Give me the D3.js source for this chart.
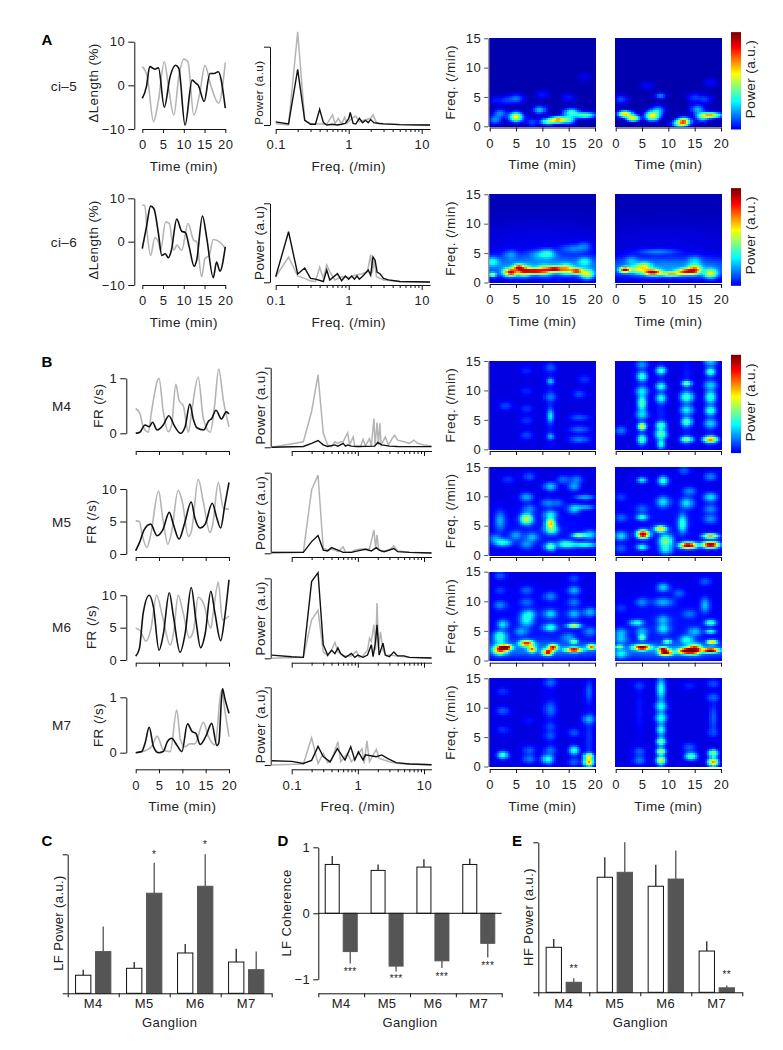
<!DOCTYPE html>
<html><head><meta charset="utf-8">
<script src="https://cdnjs.cloudflare.com/ajax/libs/d3/7.8.5/d3.min.js"></script>
<style>
html,body{margin:0;padding:0;background:#fff}
svg{display:block}
text{font-family:"Liberation Sans",Arial,sans-serif;fill:#222}
</style></head><body><svg id="c" width="783" height="1050"></svg>
<script>
// ---------- time series [min, value] ----------
const ci5Dark=[[0,-3],[1,-.3],[1.8,4.3],[3,3.7],[3.9,4],[5.3,-5],[6.7,2],[8,4.6],[8.8,3.9],[10.3,-9.1],[12,1.2],[12.9,.5],[13.5,0],[14.9,-3.7],[16.3,2.7],[17.3,2.7],[18.3,3.1],[20,-5.2]];
const ci5Light=[[0,4.3],[1.2,2],[2.7,-8.3],[3.9,-3.4],[5.3,5.4],[6.4,-1],[7.6,-6.8],[8.8,2],[10,6],[11,5.4],[12.4,-6.8],[13.9,-1.5],[15.1,4.6],[16.5,0],[18.4,-4.1],[20,5.2]];
const ci6Dark=[[0,-1.6],[1,3.4],[2,8.2],[2.8,7.6],[3.9,1.8],[4.7,-3.2],[5.5,-2.8],[6.3,-3.7],[7,-2],[8.3,5.2],[9.5,2.4],[10.4,2.1],[11.3,-1.2],[12.5,-5.7],[13.1,-4.3],[14.5,5.9],[15.5,1],[17.1,-8.3],[17.9,-4.7],[18.7,-6.8],[20,-1.2]];
const ci6Light=[[0,8.4],[.6,8.4],[1.2,1.8],[2,-3.2],[3,.9],[3.9,-.1],[4.4,-2],[5.6,4.5],[6.5,4.2],[7.6,-2],[8.3,-.8],[9.5,-2],[11,4.2],[12.4,.3],[13.1,0],[14.3,-8.1],[15.1,-3.9],[16.1,-3.2],[17.1,.5],[18.7,-.1],[20,-1.6]];
const m4Dark=[[0,0],[.9,.02],[2,.15],[2.9,.12],[3.6,.2],[4.6,.06],[5.9,.15],[7.1,.32],[8.4,.12],[9.6,0],[10.6,.12],[11.6,.53],[12.4,.24],[13.1,.1],[14.6,.06],[15.6,.22],[16.3,.27],[17.2,.42],[18.4,.26],[19.4,.39],[20,.35]];
const m4Light=[[0,.45],[.9,.36],[1.6,.12],[2.7,.02],[3.4,.4],[5,1],[5.9,.4],[7,.03],[7.7,.15],[8.6,.89],[9.3,.6],[10.2,.5],[11.3,.02],[12,.4],[13.4,1.02],[14.5,.27],[16,.02],[16.9,.5],[17.8,1.17],[18.8,.6],[20,.12]];
const m5Dark=[[0,.5],[.9,1.9],[1.8,3.7],[3.2,4.6],[4.6,2.8],[5.8,3.7],[7.2,6.4],[8.1,4.5],[9.3,2.3],[10.4,4.5],[11.9,8],[12.7,5.5],[13.8,4],[14.9,4.6],[16.4,7.8],[17.4,5.5],[18.2,4],[19.1,7.5],[20,11]];
const m5Light=[[0,5.1],[.8,5],[1.4,2.9],[2.4,1],[3.2,2.9],[4.9,9.7],[5.8,5.5],[6.9,1.5],[7.7,3.4],[9.1,9.8],[10,8],[11.3,2.7],[12,3.7],[13.4,11.5],[14.5,8],[15.9,3.3],[16.5,4.5],[17.7,11],[18.8,7],[20,6.9]];
const m6Dark=[[0,.6],[.8,1.8],[1.6,7.2],[2.9,10],[3.8,8.2],[5,1.5],[5.9,3.9],[7.2,10.4],[8.1,6.7],[9.5,1.2],[10.6,4.1],[11.9,11.2],[12.9,6.2],[13.9,1.9],[14.9,4.1],[16.1,10.6],[17,7.2],[18.2,3],[19.1,6.7],[20,12.4]];
const m6Light=[[0,4.9],[.9,4.6],[2.2,2.9],[3.2,4.6],[4.5,10],[5.6,7.2],[7.4,2.3],[8.1,4.1],[9.1,10],[10.2,7.2],[11.5,3.4],[12.4,4.6],[13.4,9.7],[14.5,8.8],[16.1,4.9],[16.6,7.2],[17.7,12],[18.6,6.2],[20,6.8]];
const m7Dark=[[0,0],[1.3,.02],[2,.17],[2.9,.46],[3.8,.11],[4.9,0],[5.9,.02],[6.8,.2],[7.7,.26],[8.8,.14],[9.9,.02],[11.1,.52],[12.1,.38],[12.9,.35],[13.8,.15],[15,.29],[16.3,.53],[17.4,.13],[17.8,.17],[18.6,1.16],[19.1,.98],[20,.71]];
const m7Light=[[0,0],[1.6,.02],[3.4,.11],[4.6,.3],[5.9,.05],[7.4,.02],[8.8,.77],[9.6,.23],[10.6,.11],[11.6,.16],[12.7,.16],[14.5,.55],[15.6,.29],[17,.14],[18.4,1.13],[19.1,.77],[20,.29]];
// ---------- spectra [freq, power] ----------
const ci5PDark=[[.1,.04],[.15,.013],[.2,.71],[.25,.06],[.3,.01],[.35,.01],[.4,.2],[.45,.03],[.5,0],[.6,.01],[.7,0],[.8,.01],[.9,.02],[1,.08],[1.05,.16],[1.15,.02],[1.25,.012],[1.4,.085],[1.55,.03],[1.7,.06],[1.85,.03],[2,.07],[2.2,.03],[2.6,.02],[3,.015],[5,.005],[10,0],[13,0]];
const ci5PLight=[[.1,.02],[.15,0],[.2,1.19],[.25,.06],[.3,.02],[.4,.012],[.5,.012],[.6,.13],[.65,.02],[.72,.085],[.8,.012],[.88,.1],[.95,.02],[1.1,.085],[1.25,.115],[1.4,.04],[1.6,.06],[2,.085],[2.15,.13],[2.4,.03],[3,.015],[5,.005],[13,0]];
const ci6PDark=[[.1,.07],[.15,.64],[.2,.105],[.25,.18],[.3,.05],[.35,.04],[.45,.01],[.5,.155],[.55,.03],[.7,.11],[.8,.02],[.9,.08],[1,.04],[1.1,.08],[1.2,.04],[1.3,.08],[1.4,.04],[1.6,.09],[1.85,.155],[2,.09],[2.15,.32],[2.3,.28],[2.45,.13],[2.7,.105],[3,.05],[3.5,.03],[5,.01],[13,.004]];
const ci6PLight=[[.1,.07],[.15,.32],[.2,.08],[.25,.05],[.3,.015],[.35,.01],[.4,.19],[.45,.05],[.5,.22],[.55,.135],[.65,.03],[.8,.07],[1,.06],[1.2,.09],[1.5,.105],[1.8,.135],[2,.35],[2.1,.115],[2.25,.28],[2.4,.07],[2.7,.05],[3,.03],[5,.01],[13,.004]];
const m4PDark=[[.05,0],[.15,.01],[.2,.05],[.25,.085],[.3,.03],[.35,.01],[.45,.03],[.5,.015],[.6,.05],[.65,.015],[.7,.03],[.8,.015],[1,.01],[1.8,.015],[2,.06],[2.3,.03],[3,.015],[4,.01],[13,.008]];
const m4PLight=[[.05,0],[.15,.07],[.2,.45],[.25,.91],[.3,.18],[.35,.03],[.4,.01],[.45,.07],[.5,.05],[.55,.07],[.6,.07],[.7,.18],[.75,.03],[.85,.13],[.9,.01],[1.1,.01],[1.2,.1],[1.3,.017],[1.5,.11],[1.6,.017],[1.75,.36],[1.82,.017],[1.95,.31],[2.05,.03],[2.15,.3],[2.25,.03],[2.6,.13],[2.9,.03],[3.3,.11],[3.6,.15],[4,.09],[5,.07],[6,.05],[7,.09],[8,.05],[10,.03],[13,.017]];
const m5PDark=[[.05,.01],[.15,.012],[.2,.145],[.25,.22],[.3,.04],[.35,.03],[.4,.07],[.5,.04],[.6,.012],[.8,.012],[1,.03],[1.3,.05],[1.6,.03],[1.9,.07],[2.1,.04],[2.5,.02],[3.5,.06],[4,.02],[6,.012],[13,.004]];
const m5PLight=[[.05,.01],[.15,.012],[.2,.79],[.25,.97],[.3,.06],[.35,.04],[.4,.054],[.45,.04],[.5,.02],[.6,.08],[.65,.012],[.8,.012],[.9,.04],[1.1,.054],[1.3,.054],[1.5,.054],[1.75,.29],[1.85,.06],[1.95,.23],[2.05,.054],[2.3,.02],[3,.04],[3.5,.09],[4,.03],[6,.012],[13,.004]];
const m6PDark=[[.05,.04],[.1,.02],[.15,.012],[.2,.96],[.25,1.07],[.3,.17],[.35,.04],[.4,.1],[.45,.06],[.5,.13],[.55,.06],[.65,.012],[.8,.06],[.9,.012],[1,.04],[1.2,.012],[1.4,.04],[1.6,.17],[1.7,.02],[1.85,.21],[1.95,.42],[2.1,.04],[2.4,.19],[2.6,.04],[3,.02],[3.5,.08],[4,.03],[5,.03],[6,.012],[13,.004]];
const m6PLight=[[.05,0],[.15,.012],[.2,.48],[.25,.6],[.3,.08],[.35,.03],[.4,.1],[.45,.2],[.5,.08],[.6,.03],[.8,.03],[.95,.09],[1.05,.012],[1.2,.03],[1.4,.1],[1.5,.25],[1.6,.21],[1.75,.42],[1.85,.1],[1.95,.69],[2.05,.125],[2.2,.33],[2.4,.1],[2.7,.03],[3,.04],[4,.03],[6,.012],[13,.004]];
const m7PDark=[[.05,.055],[.1,.047],[.15,.02],[.2,.06],[.25,.24],[.3,.11],[.38,.04],[.49,.21],[.64,.064],[.78,.236],[.9,.064],[1.02,.17],[1.2,.064],[1.3,.13],[1.9,.107],[2.3,.13],[2.8,.086],[3.8,.03],[6,.013],[13,.004]];
const m7PLight=[[.05,0],[.15,.013],[.2,.35],[.25,.02],[.3,.15],[.35,.03],[.4,.064],[.5,.3],[.55,.043],[.7,.15],[.8,.043],[1,.13],[1.15,.21],[1.25,.02],[1.37,.31],[1.5,.043],[1.9,.2],[2.1,.086],[2.5,.064],[3,.043],[4,.02],[13,.004]];
// ---------- spectrogram peaks [min, /min, power, sigma-t, sigma-f] ----------
const hmA1L=[[5,1.7,.62],[5,4.8,.22,1.2,.6],[9.5,2.9,.3,1,.5],[11,.9,.45,1,.4],[13,1.2,.75,1.2,.4],[15.5,2.5,.4,1.1,.5],[18,2,.45,1.6,.4],[1,1.2,.24],[2,2.3,.24],[8,.8,.17],[15,1.3,.36],[3,4.5,.14],[10,5.5,.12],[15,5,.12],[18,8.5,.08],[1,4.5,.12]];
const hmA1R=[[1.8,2.2,.7,1,.4],[3.3,1.5,.62,.9,.4],[7,1.9,.62,1,.6],[8,2.8,.28],[13,.9,.75,.9,.5],[12,.6,.45,1,.5],[15.5,3,.28],[18,2,.68,1.5,.35],[16.5,1.7,.35],[1,4.7,.18],[8.5,5.3,.25,.8,.4],[15,5,.16],[17,4.7,.16],[6,7,.1],[18,7.5,.1]];
const hmA2L=[[4,2,.88,1,.5],[5.5,2.8,.78,.8,.4],[6.5,2.2,.72],[8.5,2.2,.85,1.4,.4],[12.3,2.5,.9,1.2,.4],[16.5,2.2,.8,1,.4],[.5,1.6,.5,.6,.3],[18.5,1.7,.55],[14.5,2.5,.6],[10.4,2.3,.55],[10,5,.25,2,.6],[11,5.2,.25],[.5,3.8,.3],[18,3.8,.28],[4,5,.2],[16,6,.2,2,.6],[18,6.5,.16],[10,3,.25,14,1.6],[10,7,.07,14,3]];
const hmA2R=[[1.8,2.4,.95,.8,.35],[7,2,.9,1.3,.4],[10.5,1.7,.62,1.5,.3],[13.5,2.1,.82,1.5,.4],[15,2.5,.65],[18,1.8,.55],[4,2.5,.45],[5.5,2.9,.5],[8,5.5,.2,3,.4],[15,4,.22],[3,4,.2],[10,2.8,.24,14,1.5],[10,7,.06,14,3]];
const hmM4L=[[11.5,11.7,.27,.6,.4],[11.5,5.8,.3,.5,.9],[11.5,2.3,.25,.6,.4],[11.5,9,.17],[3,7.5,.14],[7,7,.12],[7,5,.12],[7,2.5,.14],[17,1.8,.2,1.6,.5],[17,3.5,.18,1.6,.5],[17,5.5,.16,1.5,.5],[17,9.5,.15],[18,12,.12],[7,13.5,.1],[7,10,.1],[11.5,14,.14],[11.5,7.5,.08,.8,8]];
const hmM4R=[[5,4,.62,.6,.45],[5,1.8,.42,.7,.6],[5,6,.26],[5,8,.4,.7,1],[5,10,.28],[5,12.5,.38,.8,.6],[5,14.5,.2],[8.6,1,.35,.6,.6],[8.6,2.7,.42,.9,.7],[8.6,4.2,.4,.8,.5],[8.6,8.8,.33,.8,.6],[8.6,10.8,.35,.8,.5],[8.6,13.5,.38,.8,.5],[13.5,1.8,.48,.9,.4],[13.5,4.8,.4,.8,.6],[13.5,6.8,.3],[13.5,9,.38,1,.7],[13.5,11.3,.46,.7,.35],[18,1.8,.72,1,.4],[18,4.5,.26],[18,6.7,.35,.8,.6],[18,9,.35,.8,.8],[18,11,.25],[18,13.3,.38,.7,.5],[18,15,.25],[1,3.3,.2],[5,8,.1,1,8],[8.6,8,.1,1,8],[13.5,8,.1,1,8],[18,8,.1,1,8]];
const hmM5L=[[7,6.3,.55,.9,.7],[11.5,5.6,.64,.7,.6],[11.7,4.5,.42],[11.5,1.6,.44,.8,.5],[14.5,2,.38,1.3,.5],[17,3.5,.52,1,.3],[18,1.9,.36,2,.35],[19,3.6,.28],[2.5,2.3,.36,1.3,.5],[2,6,.24,.8,1.3],[5,3.5,.22],[8,3.2,.24],[7,2,.2],[11.5,7,.32],[7,10,.24],[7.5,8,.2],[11.5,11.8,.28],[14,13,.18],[16.5,13,.2],[16,11.8,.24],[18,10,.25,1.5,.35],[18,8.3,.25,1.5,.35],[16,8,.28],[11,9,.2],[3.5,13,.12],[7.5,13.5,.16],[13,9,.16],[1,3,.2],[10,4,.08,10,4]];
const hmM5R=[[5.2,3.7,1,.9,.5],[8.5,4.6,.68,.9,.4],[9.5,2.5,.48,1,.9],[9.5,1,.28],[13.8,1.8,1,1.2,.4],[18,1.9,1,1.2,.4],[18,3.4,.68,1.1,.3],[12.7,5.5,.38,.7,1.2],[5,1.5,.36,.9,.4],[1,3.4,.3],[1,1.3,.16],[5,6.6,.36,.9,.4],[1,6.5,.16],[5,8,.16],[5,12.9,.32,.8,.4],[9,12.8,.38,.8,.6],[9,9.2,.3,1,.7],[13.5,9,.3,1,.7],[14,11,.2],[18,10,.3],[18,8,.2],[18,6.3,.2],[1,10,.12],[13,14.5,.16],[18,13.5,.2],[10,6,.07,10,5]];
const hmM6L=[[3,2.3,1,.9,.35],[2,1.9,.78],[7,3,.8,1,.4],[8,2,.72,.6,.4],[11,1.5,.9,.7,.4],[12,2.3,.85,.7,.4],[16,1.9,.9,1.2,.3],[19.3,2.4,.72,.7,.35],[15,4,.2],[2,4.4,.35,1,.6],[2.5,6.2,.3,.8,.6],[2,3.5,.28],[7,7,.32,1,.9],[7.5,8,.26],[6,5,.22],[11.5,5.7,.36,1,.5],[11.5,8,.28],[11.5,11,.2],[16,6,.58,1,.3],[16,3.3,.45,.6,.3],[16,8,.25],[16,10,.18],[16,12,.25],[19,8.3,.25],[19,5,.2],[2,9.5,.2],[7,10,.16],[7,12,.16],[2,12,.12],[2,14.5,.16],[16,14,.14],[10,2,.18,14,1.2],[10,6,.08,10,5]];
const hmM6R=[[5,2.3,1,1.2,.35],[9.5,1.4,1,.9,.35],[9,2,.85,.8,.3],[13.5,1.7,1,1.3,.4],[15,2,.9],[18,1.8,1,1.2,.3],[18.3,3.2,.68,.7,.3],[5,4,.45,.6,.4],[9.8,3.3,.45,.6,.3],[13.5,3.6,.34],[4,6.5,.36,1,.4],[5,5,.24],[1,4.8,.25],[1,3.7,.25],[.7,2.4,.48,.6,.25],[1,1.2,.28],[9,5.5,.3,1,.7],[9,7,.24],[9,10,.24,1.5,.6],[9,12.5,.28],[12,11.5,.16],[17,9.5,.26,.7,1],[18,6.5,.4,.8,.4],[18,5,.34,.8,.3],[14,8,.16],[15,5,.25],[5,10,.2],[1,9,.1],[17,13.5,.16],[10,1.8,.18,14,1.2],[10,6,.08,10,5]];
const hmM7L=[[2.5,2.2,.4,.8,.5],[2.5,9.7,.17],[2.5,6.5,.12],[2.5,13,.12],[7.5,1.5,.2],[7.5,3,.17],[7.5,8,.08],[11,1.5,.36,.9,.6],[11.5,3,.17],[11.5,10,.17,1,1],[11.5,5.5,.14],[11.5,7,.12],[11.5,14.5,.17],[16,3,.38,.8,.6],[16,1,.17],[16,6,.16],[18.8,1,.7,.7,.5],[18.8,2,.58,.7,.4],[18.8,8.3,.24],[18.8,13,.17,.6,1.5],[18.8,5,.12,.7,4],[11.5,8,.06,1,8]];
const hmM7R=[[8.6,1.3,.55,.7,.5],[8.6,2.8,.5,.7,.4],[8.6,4.5,.4,.7,.45],[8.6,6.5,.28,.7,.5],[8.6,8.5,.27],[8.6,10.5,.27],[8.6,13.5,.3,.7,1.2],[8.6,7.5,.2,.7,8],[14.3,2,.42,.9,.5],[14,3.5,.17],[18.5,1,.72,.7,.5],[18.5,2.5,.5,.7,.5],[18.5,8.5,.17,.6,2],[18.5,12,.17],[18.5,14.3,.15],[18.5,6,.12],[4.5,1.3,.2],[4.5,2.8,.17],[4.5,14,.12],[4.5,10,.08,.8,4],[14,14,.1]];
// ---------- bar charts ----------
const ganglia=["M4","M5","M6","M7"];
const lfPowerCtl=[.13,.18,.29,.225], lfPowerCtlErr=[.17,.225,.355,.32];
const lfPowerExp=[.30,.72,.77,.17], lfPowerExpErr=[.48,.94,1.0,.30];
const lfPowerSig=["","*","*",""];
const cohCtl=[.74,.65,.70,.74], cohCtlErr=[.87,.74,.82,.83];
const cohExp=[-.58,-.80,-.72,-.455], cohExpErr=[-.76,-.88,-.83,-.67];
const cohSig=["***","***","***","***"];
const hfPowerCtl=[.30,.767,.707,.275], hfPowerCtlErr=[.355,.9,.85,.34];
const hfPowerExp=[.067,.80,.755,.03], hfPowerExpErr=[.093,1.0,.945,.045];
const hfPowerSig=["**","","","**"];
const jetStops=["#00008f","#0000ff","#00ffff","#ffff00","#ff0000","#800000"];
const jetDomain=[0,.11,.36,.62,.87,1];

const svg=d3.select("#c");
const DARK="#111", LIGHT="#b4b4b4", FILL="#555";
const jet=d3.scaleLinear().domain(jetDomain).range(jetStops).clamp(true);
const FS=12.5, LS=13.5;

function label(x,y,s,opt={}){
  const t=svg.append("text").attr("x",x).attr("y",y).attr("dy",".36em").attr("text-anchor",opt.anchor||"middle")
    .attr("font-size",opt.size||LS).attr("letter-spacing",opt.ls==null?.4:opt.ls).text(s);
  if(opt.bold)t.attr("font-weight","bold").style("fill","#000");
  if(opt.rot)t.attr("transform",`rotate(-90 ${x} ${y})`);
  return t;
}
function styleAxis(g,col){
  g.selectAll("path,line").attr("stroke",col||"#111").attr("stroke-width",1);
  g.selectAll("text").attr("font-size",FS+.5).attr("letter-spacing",.5).attr("font-family",'"Liberation Sans",Arial,sans-serif').attr("fill","#222");
}
function timePanel(o){
  const x=d3.scaleLinear().domain([0,20]).range([o.x0,o.x1]);
  const y=d3.scaleLinear().domain(o.yd).range(o.yr);
  const ax=svg.append("g").attr("transform",`translate(0,${o.axisY})`).call(d3.axisBottom(x).tickValues([0,5,10,15,20]).tickSize(o.tick||4).tickSizeOuter(0).tickPadding(7).tickFormat(o.labels?d3.format("d"):""));
  styleAxis(ax);
  const ay=svg.append("g").attr("transform",`translate(${o.ax},0)`).call(d3.axisLeft(y).tickValues(o.yt).tickSize(6).tickSizeOuter(0).tickPadding(3).tickFormat(d=>String(d).replace("-","\u2212")));
  styleAxis(ay);
  const line=d3.line().x(d=>x(d[0])).y(d=>y(d[1])).curve(d3.curveMonotoneX);
  svg.append("path").datum(o.light).attr("d",line).attr("fill","none").attr("stroke",LIGHT).attr("stroke-width",1.6);
  svg.append("path").datum(o.dark).attr("d",line).attr("fill","none").attr("stroke",DARK).attr("stroke-width",1.6);
  if(o.labels) label((o.x0+o.x1)/2,o.axisY+37,"Time (min)");
  label(o.yLabX,o.yLabY,o.yLab,{rot:true});
}
const logTicks=[];[.1,1,10].forEach(d=>{for(let k=1;k<10;k++){const v=d*k;if(v<=11)logTicks.push(+v.toFixed(2));}});
function specPanel(o){
  const x=d3.scaleLog().domain([.1,10]).range([o.x01,o.x10]);
  const y=d3.scaleLinear().domain([0,1]).range([o.y0,o.y1]);
  const xAxScale=d3.scaleLog().domain([.1,13]).range([x(.1),x(13)]);
  const ax=svg.append("g").attr("transform",`translate(0,${o.axisY})`).call(d3.axisBottom(xAxScale).tickValues(logTicks).tickSize(3).tickSizeOuter(0).tickPadding(8)
    .tickFormat(d=>(o.labels&&(d===.1||d===1||d===10))?String(d):""));
  styleAxis(ax);
  ax.selectAll(".tick").filter(d=>d===.1||d===1||d===10).select("line").attr("y2",5);
  const ay=svg.append("g").attr("transform",`translate(${o.ax},0)`).call(d3.axisLeft(y).tickValues([0,1]).tickSize(6).tickSizeOuter(0).tickFormat(""));
  styleAxis(ay);
  const line=d3.line().x(d=>x(d[0])).y(d=>y(d[1]));
  svg.append("path").datum(o.light).attr("d",line).attr("fill","none").attr("stroke",LIGHT).attr("stroke-width",1.5);
  svg.append("path").datum(o.dark).attr("d",line).attr("fill","none").attr("stroke",DARK).attr("stroke-width",1.4);
  if(o.labels) label(x(1),o.axisY+37,"Freq. (/min)");
  label(o.ax-11,o.labY||(o.y0+o.y1)/2,"Power (a.u)",{rot:true,size:o.labSize});
}
const COLS=d3.range(0,20.001,.4), ROWS=d3.range(0,15.001,.34);
function heat(o){
  const x=d3.scaleLinear().domain([0,20]).range([o.x0,o.x1]);
  const y=d3.scaleLinear().domain([0,15]).range([o.y0,o.y1]);
  const cells=[];
  COLS.forEach(t=>ROWS.forEach(f=>{
    let s=Math.pow(o.base,1.5);
    o.peaks.forEach(p=>{
      const st=p[3]||1, sf=p[4]||.6;
      const g=p[2]*Math.exp(-((t-p[0])**2)/(2*st*st)-((f-p[1])**2)/(2*sf*sf));
      s+=Math.pow(g,1.5);
    });
    cells.push({t,f,v:Math.pow(s,1/1.5)});
  }));
  const w=x(.4)-x(0), h=y(0)-y(.34);
  const left=x(-.1), right=x(20.1), top=y(15), bot=y(0)+.6;
  svg.append("g").attr("shape-rendering","crispEdges").selectAll("rect").data(cells).join("rect")
    .attr("x",d=>Math.max(left,x(d.t)-w/2)).attr("y",d=>Math.max(top,y(d.f)-h/2))
    .attr("width",d=>Math.min(right,x(d.t)+w/2+1)-Math.max(left,x(d.t)-w/2))
    .attr("height",d=>Math.min(bot,y(d.f)+h/2+1)-Math.max(top,y(d.f)-h/2))
    .attr("fill",d=>jet(d.v));
  const ax=svg.append("g").attr("transform",`translate(0,${o.axisY})`).call(d3.axisBottom(x).tickValues([0,5,10,15,20]).tickSize(4).tickSizeOuter(0).tickPadding(7).tickFormat(o.labels?d3.format("d"):""));
  styleAxis(ax);
  if(o.labels) label((o.x0+o.x1)/2,o.axisY+37,"Time (min)");
  if(o.yaxis){
    const ay=svg.append("g").attr("transform",`translate(${x(0)-1.5},0)`).call(d3.axisLeft(y).tickValues([0,5,10,15]).tickSize(4).tickSizeOuter(0).tickPadding(3));
    styleAxis(ay);
    ay.select("path").attr("stroke","#999").attr("stroke-width",1.5);
    ay.selectAll("line").attr("stroke","#555");
    label(450.5,(o.y0+o.y1)/2,"Freq. (/min)",{rot:true});
  }
}
function colorbar(y0,y1){
  const v=d3.range(0,1.001,.01);
  const y=d3.scaleLinear().domain([0,1]).range([y1,y0]);
  svg.append("g").selectAll("rect").data(v).join("rect").attr("x",731).attr("width",10)
    .attr("y",d=>y(d)-1.2).attr("height",2).attr("fill",d=>jet(.1+d*.9));
  label(750,(y0+y1)/2-2,"Power (a.u.)",{rot:true});
}
// ---- Panel A
label(47,40,"A",{bold:true,size:15,ls:0});
label(64,85.7,"ci\u20135");label(64,241.7,"ci\u20136");
timePanel({x0:142.3,x1:225.3,axisY:129,ax:134.3,yd:[-10,10],yr:[129,41.7],yt:[-10,0,10],dark:ci5Dark,light:ci5Light,labels:true,yLabX:93,yLabY:83,yLab:"\u0394Length (%)"});
timePanel({x0:142.3,x1:225.3,axisY:285,ax:134.3,yd:[-10,10],yr:[285,198.3],yt:[-10,0,10],dark:ci6Dark,light:ci6Light,labels:true,yLabX:93,yLabY:240,yLab:"\u0394Length (%)"});
specPanel({x01:275.7,x10:421.7,y0:125,y1:46.7,ax:270,axisY:129,dark:ci5PDark,light:ci5PLight,labels:true,labY:92.7,labSize:11.6});
specPanel({x01:275.7,x10:421.7,y0:282.3,y1:203.3,ax:270,axisY:285,dark:ci6PDark,light:ci6PLight,labels:true});
heat({x0:489.7,x1:595,y0:126.3,y1:38.3,axisY:127.5,labels:true,yaxis:true,peaks:hmA1L,base:.03});
heat({x0:615.7,x1:721,y0:126.3,y1:38.3,axisY:127.5,labels:true,peaks:hmA1R,base:.03});
heat({x0:489.7,x1:595,y0:282.5,y1:194.3,axisY:284,labels:true,yaxis:true,peaks:hmA2L,base:.04});
heat({x0:615.7,x1:721,y0:282.5,y1:194.3,axisY:284,labels:true,peaks:hmA2R,base:.04});
colorbar(33.3,128.7);colorbar(189.3,285);
// ---- Panel B
label(47,362,"B",{bold:true,size:15,ls:0});
label(61.7,406,"M4");label(61.7,522,"M5");label(61.7,627,"M6");label(61.7,725,"M7");
const tB={x0:135.7,x1:229,ax:126.3};
timePanel({...tB,axisY:451,yd:[0,1],yr:[433.3,378.3],yt:[0,1],dark:m4Dark,light:m4Light,yLabX:98,yLabY:405.7,yLab:"FR (/s)"});
timePanel({...tB,axisY:557,yd:[0,10],yr:[554,489],yt:[0,5,10],dark:m5Dark,light:m5Light,yLabX:91,yLabY:521.7,yLab:"FR (/s)"});
timePanel({...tB,axisY:662.7,yd:[0,10],yr:[660,595.3],yt:[0,5,10],dark:m6Dark,light:m6Light,yLabX:91,yLabY:627,yLab:"FR (/s)"});
timePanel({...tB,axisY:769.3,yd:[0,1],yr:[752.7,697.3],yt:[0,1],dark:m7Dark,light:m7Light,labels:true,yLabX:98,yLabY:725,yLab:"FR (/s)"});
const sB={x01:291.7,x10:424,ax:270.7};
specPanel({...sB,y0:447.3,y1:367.7,axisY:451,dark:m4PDark,light:m4PLight});
specPanel({...sB,y0:553.3,y1:472.7,axisY:557,dark:m5PDark,light:m5PLight});
specPanel({...sB,y0:658.3,y1:578.3,axisY:662.7,dark:m6PDark,light:m6PLight});
specPanel({...sB,y0:765,y1:687.3,axisY:769.3,dark:m7PDark,light:m7PLight,labels:true});
const hB=[[449.3,361,451,hmM4L,hmM4R],[555,467,557,hmM5L,hmM5R],[660.5,571.7,662.7,hmM6L,hmM6R],[766.5,678.3,769,hmM7L,hmM7R]];
hB.forEach((r,i)=>{
  heat({x0:489.7,x1:595,y0:r[0],y1:r[1],axisY:r[2],yaxis:true,labels:i===3,peaks:r[3],base:.08});
  heat({x0:615.7,x1:721,y0:r[0],y1:r[1],axisY:r[2],labels:i===3,peaks:r[4],base:.08});
});
colorbar(356,452.3);
// ---- bars
function bars(o){
  const x=d3.scaleBand().domain(ganglia).range([o.x0,o.x1]);
  const y=d3.scaleLinear().domain(o.yd).range(o.yr);
  const base=y(0);
  const row=ganglia.map((g,i)=>({g,i}));
  const off=o.off, bw=o.bw;
  const put=(vals,errs,dx,fill,errCol,stroke)=>{
    svg.append("g").selectAll("line").data(row).join("line")
      .attr("x1",d=>x(d.g)+x.bandwidth()/2+dx).attr("x2",d=>x(d.g)+x.bandwidth()/2+dx)
      .attr("y1",d=>y(vals[d.i])).attr("y2",d=>y(errs[d.i])).attr("stroke",errCol).attr("stroke-width",1.2);
    svg.append("g").selectAll("rect").data(row).join("rect")
      .attr("x",d=>x(d.g)+x.bandwidth()/2+dx-bw/2).attr("width",bw)
      .attr("y",d=>Math.min(y(vals[d.i]),base)).attr("height",d=>Math.abs(y(vals[d.i])-base))
      .attr("fill",fill).attr("stroke",stroke).attr("stroke-width",1);
  };
  put(o.ctl,o.ctlErr,-off,"#fff",DARK,DARK);
  put(o.exp,o.expErr,off,FILL,"#444",FILL);
  svg.append("g").selectAll("text").data(row.filter(d=>o.sig[d.i])).join("text")
    .attr("x",d=>x(d.g)+x.bandwidth()/2+o.sigDx).attr("y",d=>y(o.sigY[d.i])).attr("dy",".4em").attr("text-anchor","middle")
    .attr("font-size",10).attr("letter-spacing",.4).text(d=>o.sig[d.i]);
  const ay=svg.append("g").attr("transform",`translate(${o.x0},0)`).call(d3.axisLeft(y).tickValues(o.yt).tickSize(5).tickSizeOuter(0).tickPadding(3).tickFormat(o.yfmt||""));
  styleAxis(ay);
  const bx=d3.scaleLinear().domain([0,4]).range([o.x0,o.x1]);
  const ax=svg.append("g").attr("transform",`translate(0,${o.axisY})`).call(d3.axisBottom(bx).tickValues([0,1,2,3,4]).tickSize(4).tickSizeOuter(0).tickFormat(""));
  styleAxis(ax);
  if(o.zero) svg.append("line").attr("x1",o.x0).attr("x2",o.x1).attr("y1",base).attr("y2",base).attr("stroke","#111");
  ganglia.forEach(g=>label(x(g)+x.bandwidth()/2,1003,g,{size:13}));
  label((o.x0+o.x1)/2,1022,"Ganglion",{size:13});
  label(o.yLabX,o.yLabY,o.yLab,{rot:true,size:13});
}
label(47,841,"C",{bold:true,size:15,ls:0});
bars({x0:67.7,x1:271.7,yd:[0,1],yr:[993.3,854.3],yt:[0,1],axisY:993.3,off:10,bw:15.3,ctl:lfPowerCtl,ctlErr:lfPowerCtlErr,exp:lfPowerExp,expErr:lfPowerExpErr,sig:lfPowerSig,sigDx:10,sigY:[0,1.0,1.075,0],yLab:"LF Power (a.u.)",yLabX:58,yLabY:923});
label(283,841,"D",{bold:true,size:15,ls:0});
bars({x0:318.3,x1:501.7,yd:[-1,1],yr:[979.3,847.3],yt:[-1,0,1],yfmt:d=>String(d).replace("-","\u2212"),axisY:993.3,zero:true,off:9,bw:14,ctl:cohCtl,ctlErr:cohCtlErr,exp:cohExp,expErr:cohExpErr,sig:cohSig,sigDx:9,sigY:[-.87,-.98,-.95,-.78],yLab:"LF Coherence",yLabX:286.7,yLabY:913});
label(517,841,"E",{bold:true,size:15,ls:0});
bars({x0:538.3,x1:742.3,yd:[0,1],yr:[992.3,842.3],yt:[0,1],axisY:992.3,off:10,bw:15.3,ctl:hfPowerCtl,ctlErr:hfPowerCtlErr,exp:hfPowerExp,expErr:hfPowerExpErr,sig:hfPowerSig,sigDx:10,sigY:[.165,0,0,.12],yLab:"HF Power (a.u.)",yLabX:528,yLabY:917});
</script></body></html>
